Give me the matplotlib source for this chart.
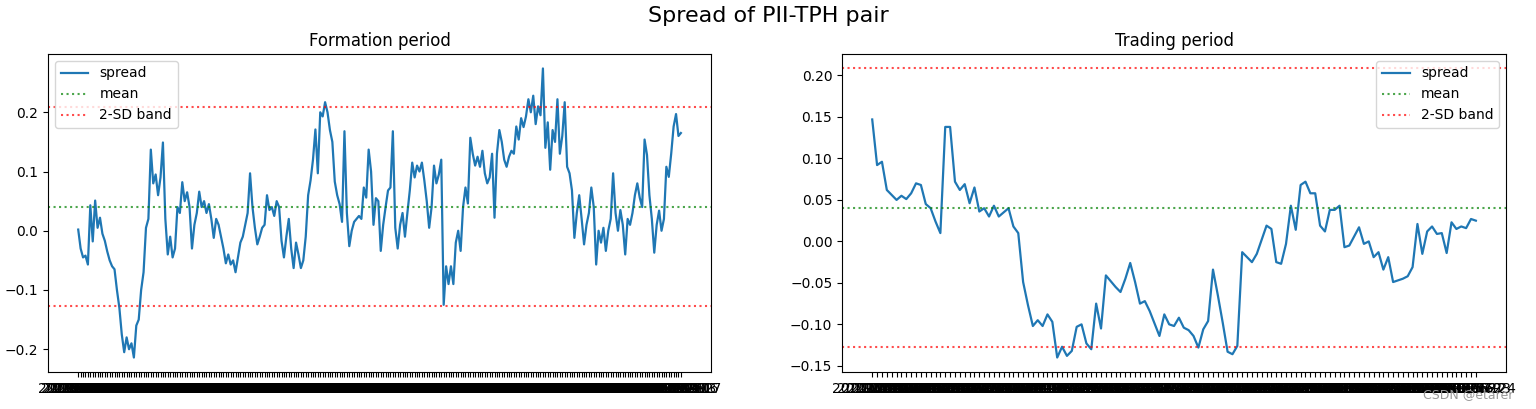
"""
Spread of PII-TPH pair: formation and trading period.
"""

import matplotlib
matplotlib.use("Agg")
import matplotlib.pyplot as plt
import pandas as pd


# spread values
formation_spread = [
    0.002, -0.03, -0.045, -0.042, -0.057, 0.043, -0.018, 0.051, 0.005, 0.022,
    -0.005, -0.017, -0.035, -0.05, -0.06, -0.065, -0.1, -0.13, -0.175, -0.205,
    -0.18, -0.2, -0.19, -0.214, -0.16, -0.15, -0.1, -0.07, 0.005, 0.02,
    0.137, 0.08, 0.095, 0.06, 0.09, 0.149, 0.02, -0.04, -0.01, -0.045,
    -0.03, 0.04, 0.03, 0.082, 0.05, 0.065, 0.04, -0.03, 0.01, 0.03,
    0.066, 0.04, 0.05, 0.03, 0.045, 0.02, -0.012, 0.02, 0.01, -0.01,
    -0.03, -0.055, -0.04, -0.057, -0.05, -0.07, -0.045, -0.02, -0.01, 0.01,
    0.03, 0.097, 0.04, 0.005, -0.023, -0.01, 0.005, 0.01, 0.06, 0.035,
    0.04, 0.025, 0.05, 0.04, -0.017, -0.045, -0.01, 0.02, -0.03, -0.063,
    -0.02, -0.04, -0.063, -0.05, -0.01, 0.06, 0.085, 0.12, 0.171, 0.097,
    0.2, 0.193, 0.217, 0.2, 0.17, 0.15, 0.083, 0.06, 0.045, 0.015,
    0.168, 0.03, -0.026, 0.0, 0.015, 0.02, 0.025, 0.02, 0.073, 0.056,
    0.137, 0.1, 0.01, 0.055, 0.05, -0.034, 0.01, 0.04, 0.068, 0.073,
    0.168, 0.005, -0.03, 0.01, 0.03, -0.01, 0.03, 0.068, 0.115, 0.09,
    0.11, 0.1, 0.115, 0.085, 0.05, 0.005, 0.04, 0.11, 0.08, 0.095,
    0.12, -0.125, -0.06, -0.09, -0.06, -0.09, -0.02, 0.0, -0.034, 0.04,
    0.073, 0.046, 0.157, 0.13, 0.11, 0.125, 0.108, 0.135, 0.097, 0.08,
    0.09, 0.13, 0.022, 0.13, 0.17, 0.15, 0.12, 0.108, 0.125, 0.135,
    0.13, 0.176, 0.154, 0.19, 0.175, 0.193, 0.222, 0.2, 0.228, 0.18,
    0.21, 0.195, 0.274, 0.14, 0.183, 0.103, 0.17, 0.15, 0.222, 0.13,
    0.16, 0.217, 0.108, 0.097, 0.068, -0.012, 0.03, 0.06, 0.02, -0.023,
    0.01, 0.03, 0.073, 0.04, -0.057, 0.0, -0.02, 0.005, -0.034, 0.0,
    0.02, 0.097, 0.03, 0.0, 0.035, 0.01, -0.04, 0.02, 0.01, 0.03,
    0.06, 0.08, 0.056, 0.04, 0.154, 0.128, 0.06, 0.02, -0.037, 0.01,
    0.034, 0.0, 0.02, 0.108, 0.091, 0.13, 0.176, 0.197, 0.16, 0.165,
]

trading_spread = [
    0.147, 0.092, 0.096, 0.062, 0.056, 0.05, 0.055, 0.051, 0.058, 0.07,
    0.068, 0.045, 0.04, 0.024, 0.01, 0.138, 0.138, 0.072, 0.062, 0.069,
    0.046, 0.065, 0.036, 0.04, 0.03, 0.043, 0.03, 0.035, 0.04, 0.018,
    0.01, -0.049, -0.077, -0.102, -0.095, -0.102, -0.088, -0.097, -0.14, -0.127,
    -0.138, -0.132, -0.103, -0.1, -0.123, -0.13, -0.075, -0.105, -0.041, -0.048,
    -0.055, -0.061, -0.045, -0.026, -0.049, -0.075, -0.072, -0.084, -0.099, -0.114,
    -0.088, -0.1, -0.102, -0.092, -0.104, -0.107, -0.114, -0.128, -0.106, -0.096,
    -0.034, -0.065, -0.098, -0.133, -0.136, -0.126, -0.013, -0.019, -0.025, -0.015,
    0.002, 0.019, 0.015, -0.025, -0.027, -0.003, 0.043, 0.014, 0.068, 0.072,
    0.058, 0.058, 0.019, 0.012, 0.038, 0.038, 0.043, -0.007, -0.005, 0.006,
    0.017, -0.003, 0.0, -0.019, -0.013, -0.034, -0.019, -0.049, -0.047, -0.045,
    -0.042, -0.031, 0.021, -0.015, 0.012, 0.018, 0.009, 0.01, -0.014, 0.023,
    0.015, 0.018, 0.016, 0.027, 0.025,
]

# mean and 2-SD band of the formation period
spread_mean = 0.0405
band_upper = 0.2085
band_lower = -0.127

# date labels (categorical x axis)
formation_dates = [d.strftime("%Y-%m-%d") for d in
                   pd.bdate_range("2019-01-02", periods=len(formation_spread))]
trading_dates = [d.strftime("%Y-%m-%d") for d in
                 pd.bdate_range("2020-01-02", periods=len(trading_spread))]


def draw_period(ax, dates, spread, title, loc):
    """draw one spread panel with its mean and band lines"""
    ax.plot(dates, spread, color="tab:blue", linewidth=1.6, label="spread")
    ax.axhline(spread_mean, color="g", linestyle=":", alpha=0.7, label="mean")
    ax.axhline(band_upper, color="r", linestyle=":", alpha=0.7,
               label="2-SD band")
    ax.axhline(band_lower, color="r", linestyle=":", alpha=0.7)
    ax.set_title(title)
    ax.legend(loc=loc)


def main():
    fig = plt.figure(figsize=(15.36, 4.09), dpi=100)
    ax1 = fig.add_axes([0.0313, 0.0905, 0.4316, 0.7775])
    ax2 = fig.add_axes([0.5482, 0.0905, 0.4323, 0.7775])

    draw_period(ax1, formation_dates, formation_spread,
                "Formation period", "upper left")
    draw_period(ax2, trading_dates, trading_spread,
                "Trading period", "upper right")

    fig.suptitle("Spread of PII-TPH pair", fontsize=16, y=0.985)
    fig.text(0.985, 0.02, "CSDN @etarer", ha="right", va="bottom",
             color="#999999", fontsize=9)

    fig.savefig("out.png", dpi=100)


if __name__ == "__main__":
    main()
